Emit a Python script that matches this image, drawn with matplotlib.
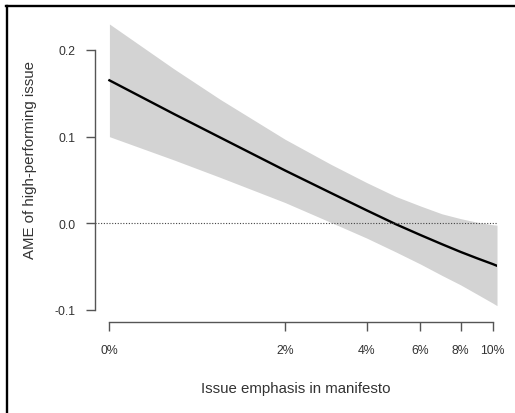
import numpy as np
import matplotlib
matplotlib.use("Agg")
import matplotlib.pyplot as plt
from matplotlib.lines import Line2D

# issue emphasis (%) and average marginal effect with 95% band
emphasis = [0, 0.5, 1, 2, 3, 4, 5, 6, 7, 8, 9, 10, 10.3]
ame = [0.165, 0.126, 0.099, 0.061, 0.035, 0.015, -0.001, -0.0135, -0.024,
       -0.033, -0.0405, -0.047, -0.049]
upper = [0.230, 0.178, 0.143, 0.097, 0.068, 0.047, 0.031, 0.020, 0.011,
         0.0054, 0.0012, -0.0016, -0.0021]
lower = [0.100, 0.073, 0.053, 0.024, 0.001, -0.017, -0.033, -0.047, -0.060,
         -0.071, -0.082, -0.092, -0.095]
xticks = [0, 2, 4, 6, 8, 10]
xticklabels = ["0%", "2%", "4%", "6%", "8%", "10%"]
yticks = [-0.1, 0.0, 0.1, 0.2]
yticklabels = ["-0.1", "0.0", "0.1", "0.2"]

plt.rcParams["font.family"] = ["Liberation Sans", "DejaVu Sans"]
AX_C = "#555555"
TXT_C = "#333333"

W, H = 515, 414
fig = plt.figure(figsize=(W / 100, H / 100), dpi=100)
ax = fig.add_axes([95 / W, (H - 322.7) / H, (497 - 95) / W, (322.7 - 16.3) / H])

ax.set_xscale("function", functions=(np.log1p, np.expm1))
ax.fill_between(emphasis, lower, upper, color="#d3d3d3", lw=0)
ax.plot(emphasis, ame, color="black", lw=1.7)
ax.axhline(0, color="#444444", lw=0.8, ls=(0, (1, 1.5)))

ax.set_xlim(-0.0862, 10.3)
ax.set_ylim(-0.1135, 0.24)
for s in ("top", "right"):
    ax.spines[s].set_visible(False)
for s in ("left", "bottom"):
    ax.spines[s].set_color(AX_C)
    ax.spines[s].set_linewidth(1.0)
ax.spines["left"].set_bounds(-0.1, 0.2)
ax.spines["bottom"].set_bounds(0, 10)

ax.set_xticks(xticks)
ax.set_xticklabels(xticklabels)
ax.set_yticks(yticks)
ax.set_yticklabels(yticklabels)
ax.xaxis.set_minor_locator(matplotlib.ticker.NullLocator())
ax.tick_params(axis="both", length=6.8, width=1.0, color=AX_C,
               labelcolor=TXT_C, labelsize=8.8)
ax.tick_params(axis="x", pad=9)
ax.tick_params(axis="y", pad=7)

fig.text(296 / W, 1 - 389 / H, "Issue emphasis in manifesto", ha="center",
         va="center", fontsize=10.8, color=TXT_C)
fig.text(30 / W, 1 - 160 / H, "AME of high-performing issue", ha="center",
         va="center", rotation=90, fontsize=10.8, color=TXT_C)

# screenshot border (top and left only)
fig.add_artist(Line2D([6 / W, 1], [1 - 7.3 / H, 1 - 7.3 / H], color="black",
                      lw=1.7, transform=fig.transFigure))
fig.add_artist(Line2D([7 / W, 7 / W], [0, 1 - 6.5 / H], color="black",
                      lw=1.7, transform=fig.transFigure))

fig.savefig("out.png", dpi=100)
